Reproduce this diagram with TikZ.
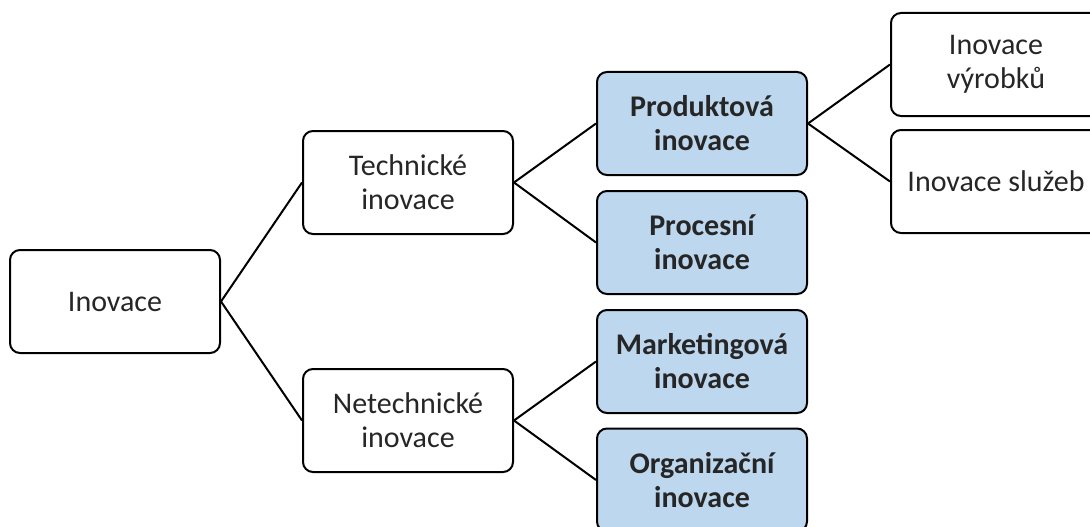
\documentclass[tikz,border=0pt]{standalone}
\usepackage{fontspec}
\setmainfont{Carlito}
\begin{document}
\begin{tikzpicture}[x=1pt,y=-1pt,
  box/.style={draw=black, line width=2pt, rounded corners=10pt, fill=white,
    minimum width=210pt, minimum height=103pt, align=center, inner sep=2pt,
    font=\fontsize{30}{34}\selectfont, text=black!85},
  bluebox/.style={box, fill=blue1, font=\fontsize{30}{34}\selectfont\bfseries},
  link/.style={draw=black, line width=2pt}]
\definecolor{blue1}{HTML}{BDD7EE}
\useasboundingbox (0,0) rectangle (1090,527);
\clip (0,0) rectangle (1090,527);
\node[box] (inov) at (115,301.5) {Inovace};
\node[box] (tech) at (408,182.5) {Technické\\inovace};
\node[box] (netech) at (408,420.5) {Netechnické\\inovace};
\node[bluebox] (prod) at (702,123.5) {Produktová\\inovace};
\node[bluebox] (proc) at (702,242.5) {Procesní\\inovace};
\node[bluebox] (mark) at (702,361.5) {Marketingová\\inovace};
\node[bluebox] (org) at (702,480) {Organizační\\inovace};
\node[box] (vyr) at (996,64.5) {Inovace\\výrobků};
\node[box] (sluz) at (996,181.5) {Inovace služeb};
\draw[link] (inov.east) -- (tech.west);
\draw[link] (inov.east) -- (netech.west);
\draw[link] (tech.east) -- (prod.west);
\draw[link] (tech.east) -- (proc.west);
\draw[link] (netech.east) -- (mark.west);
\draw[link] (netech.east) -- (org.west);
\draw[link] (prod.east) -- (vyr.west);
\draw[link] (prod.east) -- (sluz.west);
\end{tikzpicture}
\end{document}
